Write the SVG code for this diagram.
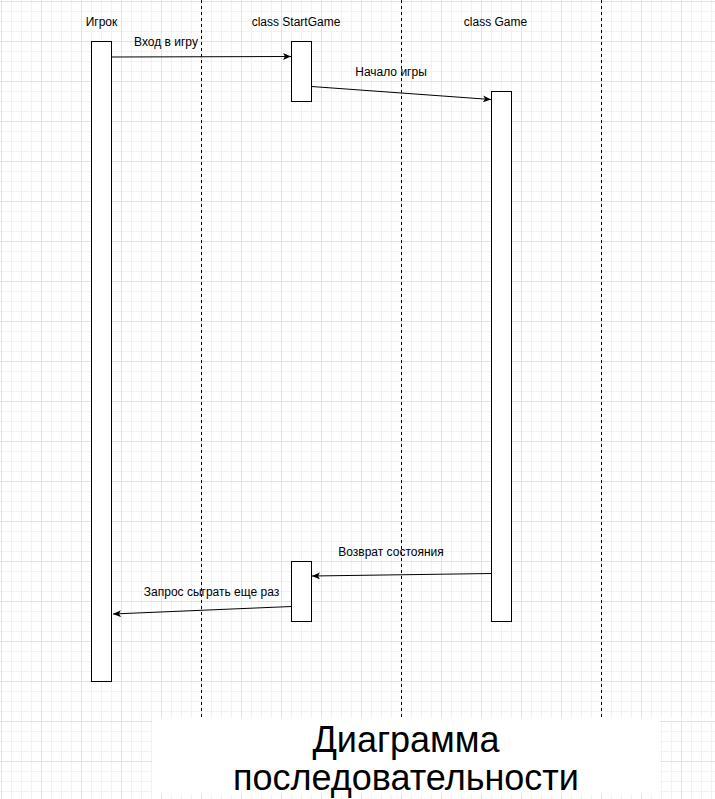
<svg xmlns="http://www.w3.org/2000/svg" width="715" height="799" viewBox="0 0 715 799">
<defs>
<pattern id="grid" x="1" y="1" width="40" height="40" patternUnits="userSpaceOnUse">
<path d="M10.5,0 V40 M20.5,0 V40 M30.5,0 V40 M0,10.5 H40 M0,20.5 H40 M0,30.5 H40" stroke="#f2f2f2" stroke-width="1" fill="none"/>
<path d="M0.5,0 V40 M0,0.5 H40" stroke="#e2e2e2" stroke-width="1" fill="none"/>
</pattern>
<marker id="arr" viewBox="0 0 8 7" refX="8" refY="3.5" markerWidth="8" markerHeight="7" markerUnits="userSpaceOnUse" orient="auto">
<path d="M0,0 L8,3.5 L0,7 L2,3.5 Z" fill="#000"/>
</marker>
<style>
.lbl{font-family:"Liberation Sans",Arial,sans-serif;font-size:12px;fill:#000;text-anchor:middle}
.act{fill:#fff;stroke:#000;stroke-width:1}
.sep{stroke:#000;stroke-width:1;stroke-dasharray:3 3;fill:none}
.msg{stroke:#000;stroke-width:1;fill:none;marker-end:url(#arr)}
.title{font-family:"Liberation Sans",Arial,sans-serif;font-size:36px;fill:#000;text-anchor:middle}
</style>
</defs>
<rect x="0" y="0" width="715" height="799" fill="#fff"/>
<rect x="0" y="0" width="715" height="799" fill="url(#grid)"/>
<g id="separators">
<line class="sep" x1="201.5" y1="0" x2="201.5" y2="718"/>
<line class="sep" x1="401.5" y1="0" x2="401.5" y2="718"/>
<line class="sep" x1="601.5" y1="0" x2="601.5" y2="718"/>
</g>
<g id="title">
<path d="M152,718 H715 V721 H660 V794 H152 Z" fill="#fff"/>
<text class="title" x="406" y="752">Диаграмма</text>
<text class="title" x="406" y="790">последовательности</text>
</g>
<g id="player">
<text class="lbl" x="101.5" y="26">Игрок</text>
<rect class="act" x="91.5" y="41.5" width="20" height="640"/>
</g>
<g id="startgame">
<text class="lbl" x="296" y="26">class StartGame</text>
<rect class="act" x="291.5" y="41.5" width="20" height="60"/>
</g>
<g id="startgame2">
<rect class="act" x="291.5" y="561.5" width="20" height="60"/>
</g>
<g id="game">
<text class="lbl" x="495.5" y="26">class Game</text>
<rect class="act" x="491.5" y="91.5" width="20" height="530"/>
</g>
<g id="connectors">
<path class="msg" d="M111.5,57 L291,56.5"/>
<text class="lbl" x="166" y="46">Вход в игру</text>
<path class="msg" d="M311.5,86.5 L491,99.5"/>
<text class="lbl" x="391" y="76">Начало игры</text>
<path class="msg" d="M491.5,573.5 L312,576"/>
<text class="lbl" x="391" y="555.5">Возврат состояния</text>
<path class="msg" d="M291.5,606.5 L113,614"/>
<text class="lbl" x="211.5" y="595.5">Запрос сыграть еще раз</text>
</g>
</svg>
